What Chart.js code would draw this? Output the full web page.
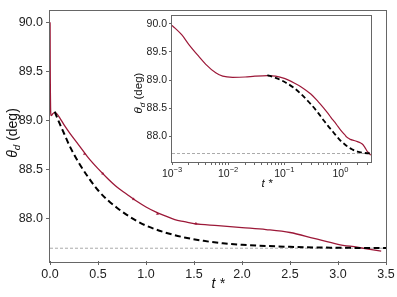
<!DOCTYPE html>
<html>
<head>
<meta charset="utf-8">
<script src="https://cdn.jsdelivr.net/npm/chart.js@4.4.0/dist/chart.umd.min.js"></script>
<style>
  html, body { margin: 0; padding: 0; background: #fff; }
  #wrap { position: relative; width: 397px; height: 297px; }
  #mainChart { position: absolute; left: 0; top: 0; }
  #insetChart { position: absolute; left: 125px; top: 8px; }
</style>
</head>
<body>
<div id="wrap">
  <canvas id="mainChart" width="397" height="297"></canvas>
  <canvas id="insetChart" width="255" height="190"></canvas>
</div>
<script>
// simulated contact angle (red) and fitted exponential (dashed)
const redT = [0, 0.001, 0.0015, 0.002, 0.003, 0.004, 0.006, 0.008, 0.012, 0.02, 0.03, 0.05, 0.07,
  0.1, 0.15, 0.2, 0.3, 0.4, 0.5, 0.6, 0.7, 0.8, 0.9, 1.0, 1.1, 1.2, 1.3, 1.4, 1.5,
  1.75, 2.0, 2.25, 2.5, 2.75, 3.0, 3.2, 3.45];
const redTheta = [90.0, 89.97, 89.80, 89.63, 89.42, 89.28, 89.13, 89.07, 89.05, 89.055, 89.07, 89.08, 89.07,
  89.03, 88.95, 88.88, 88.75, 88.62, 88.51, 88.41, 88.32, 88.25, 88.18, 88.12, 88.07, 88.03, 87.99, 87.97, 87.95,
  87.93, 87.91, 87.89, 87.86, 87.80, 87.74, 87.71, 87.67];
const dashT = [0.05, 0.07, 0.1, 0.15, 0.2, 0.3, 0.4, 0.5, 0.6, 0.7, 0.8, 0.9, 1.0,
  1.2, 1.4, 1.6, 1.8, 2.0, 2.5, 3.0, 3.5];
const dashTheta = [89.09, 89.04, 88.97, 88.86, 88.75, 88.57, 88.42, 88.29, 88.19, 88.11, 88.04, 87.98, 87.93,
  87.86, 87.81, 87.775, 87.75, 87.735, 87.714, 87.705, 87.702];
const markT = [0.36, 0.55, 0.87, 1.12, 1.52];
const markTheta = [88.66, 88.46, 88.20, 88.05, 87.95];
const refTheta = 87.70;

const mainXTicks = [0, 0.5, 1.0, 1.5, 2.0, 2.5, 3.0, 3.5];
const mainYTicks = [88.0, 88.5, 89.0, 89.5, 90.0];
const insetYTicks = [88.0, 88.5, 89.0, 89.5, 90.0];
const insetXMajor = [0.001, 0.01, 0.1, 1];
const insetXExp = ['\u22123', '\u22122', '\u22121', '0'];

const FONT = "'Liberation Sans', Arial, sans-serif";
const RED = '#9c1838';
const AXIS = '#666';
Chart.defaults.font.family = FONT;
Chart.defaults.color = '#222';

function pts(xs, ys) {
    return xs.map((x, i) => ({ x: x, y: ys[i] }));
}

// box round the plot area
const framePlugin = {
    id: 'frame',
    afterDatasetsDraw(chart) {
        const a = chart.chartArea;
        const ctx = chart.ctx;
        ctx.save();
        ctx.strokeStyle = AXIS;
        ctx.lineWidth = 1;
        ctx.strokeRect(Math.round(a.left) - 0.5, Math.round(a.top) - 0.5,
            Math.round(a.right - a.left) + 1, Math.round(a.bottom - a.top) + 1);
        ctx.restore();
    }
};

// axis titles with italic theta and subscript d
const titlesPlugin = {
    id: 'axisTitles',
    afterDraw(chart, args, o) {
        const ctx = chart.ctx;
        const s = o.size;
        ctx.save();
        ctx.fillStyle = '#111';
        ctx.textBaseline = 'middle';
        ctx.textAlign = 'left';

        // y title
        ctx.translate(o.yx, o.yy);
        ctx.rotate(-Math.PI / 2);
        const fTheta = 'italic ' + s + 'px ' + FONT;
        const fSub = 'italic ' + (s * 0.7) + 'px ' + FONT;
        const fRest = s + 'px ' + FONT;
        ctx.font = fTheta; const w1 = ctx.measureText('\u03b8').width;
        ctx.font = fSub; const w2 = ctx.measureText('d').width;
        ctx.font = fRest; const w3 = ctx.measureText(' (deg)').width;
        let x = -(w1 + w2 + w3) / 2;
        ctx.font = fTheta; ctx.fillText('\u03b8', x, 0); x += w1;
        ctx.font = fSub; ctx.fillText('d', x, s * 0.3); x += w2;
        ctx.font = fRest; ctx.fillText(' (deg)', x, 0);
        ctx.setTransform(1, 0, 0, 1, 0, 0);

        // x title
        ctx.font = 'italic ' + s + 'px ' + FONT;
        ctx.textAlign = 'center';
        ctx.fillText('t *', o.xx, o.xy);
        ctx.restore();
    }
};

// 10^n labels for the log axis of the inset
const logLabelsPlugin = {
    id: 'logLabels',
    afterDraw(chart) {
        const sc = chart.scales.x;
        const ctx = chart.ctx;
        const base = chart.chartArea.bottom + 15;
        ctx.save();
        ctx.fillStyle = '#222';
        ctx.textBaseline = 'alphabetic';
        ctx.textAlign = 'left';
        insetXMajor.forEach((v, i) => {
            const px = sc.getPixelForValue(v);
            ctx.font = '10.5px ' + FONT;
            const wb = ctx.measureText('10').width;
            ctx.font = '7.5px ' + FONT;
            const we = ctx.measureText(insetXExp[i]).width;
            const x0 = px - (wb + we) / 2;
            ctx.font = '10.5px ' + FONT;
            ctx.fillText('10', x0, base);
            ctx.font = '7.5px ' + FONT;
            ctx.fillText(insetXExp[i], x0 + wb, base - 5);
        });
        ctx.restore();
    }
};

function gridOpts(len) {
    return { drawOnChartArea: false, drawTicks: true, tickLength: len, color: AXIS };
}

// main chart
new Chart(document.getElementById('mainChart'), {
    type: 'line',
    data: {
        datasets: [
            {
                data: pts([0, 3.5], [refTheta, refTheta]),
                borderColor: '#aaaaaa', borderWidth: 1, borderDash: [3, 2],
                pointRadius: 0, order: 3
            },
            {
                data: pts(redT, redTheta),
                borderColor: RED, borderWidth: 1.3, pointRadius: 0,
                cubicInterpolationMode: 'monotone', order: 2
            },
            {
                data: pts(markT, markTheta),
                showLine: false, pointStyle: 'triangle', pointRadius: 1.3,
                backgroundColor: RED, borderColor: RED, borderWidth: 0.5, order: 1
            },
            {
                data: pts(dashT, dashTheta),
                borderColor: '#000', borderWidth: 2, borderDash: [6, 3.5], pointRadius: 0,
                cubicInterpolationMode: 'monotone', order: 0
            }
        ]
    },
    options: {
        responsive: false,
        animation: false,
        devicePixelRatio: 1,
        layout: { padding: { top: 2, right: 11, left: 0, bottom: 0 } },
        plugins: {
            legend: { display: false },
            tooltip: { enabled: false },
            axisTitles: { size: 14, yx: 13, yy: 133, xx: 218, xy: 284 }
        },
        scales: {
            x: {
                type: 'linear', min: 0, max: 3.5,
                afterBuildTicks: (s) => { s.ticks = mainXTicks.map(v => ({ value: v })); },
                afterFit: (s) => { s.height = 36; },
                ticks: { font: { size: 12.5 }, padding: 2, maxRotation: 0, autoSkip: false,
                         callback: (v) => Number(v).toFixed(1) },
                grid: gridOpts(4),
                border: { display: false }
            },
            y: {
                min: 87.57, max: 90.12,
                afterBuildTicks: (s) => { s.ticks = mainYTicks.map(v => ({ value: v })); },
                afterFit: (s) => { s.width = 50; },
                ticks: { font: { size: 12.5 }, padding: 3, callback: (v) => Number(v).toFixed(1) },
                grid: gridOpts(4),
                border: { display: false }
            }
        }
    },
    plugins: [framePlugin, titlesPlugin]
});

// inset on a log time axis
const insetTicks = [];
insetXMajor.forEach(d => {
    for (let k = 1; k <= 9; k++) {
        if (k * d <= 3.5) insetTicks.push(k * d);
    }
});

new Chart(document.getElementById('insetChart'), {
    type: 'line',
    data: {
        datasets: [
            {
                data: pts([0.001, 3.5], [refTheta, refTheta]),
                borderColor: '#aaaaaa', borderWidth: 1, borderDash: [3, 2],
                pointRadius: 0, order: 3
            },
            {
                data: pts(redT, redTheta).filter(p => p.x > 0),
                borderColor: RED, borderWidth: 1.2, pointRadius: 0,
                cubicInterpolationMode: 'monotone', order: 2
            },
            {
                data: pts(dashT, dashTheta),
                borderColor: '#000', borderWidth: 1.8, borderDash: [5, 3], pointRadius: 0,
                cubicInterpolationMode: 'monotone', order: 0
            }
        ]
    },
    options: {
        responsive: false,
        animation: false,
        devicePixelRatio: 1,
        layout: { padding: { top: 8, right: 9, left: 0, bottom: 0 } },
        plugins: {
            legend: { display: false },
            tooltip: { enabled: false },
            axisTitles: { size: 11.5, yx: 14, yy: 85, xx: 142, xy: 176 }
        },
        scales: {
            x: {
                type: 'logarithmic', min: 0.001, max: 3.5,
                afterBuildTicks: (s) => { s.ticks = insetTicks.map(v => ({ value: v })); },
                afterFit: (s) => { s.height = 36; },
                ticks: { autoSkip: false, maxRotation: 0, callback: () => '' },
                grid: gridOpts(3),
                border: { display: false }
            },
            y: {
                min: 87.55, max: 90.13,
                afterBuildTicks: (s) => { s.ticks = insetYTicks.map(v => ({ value: v })); },
                afterFit: (s) => { s.width = 47; },
                ticks: { font: { size: 10.5 }, padding: 2, callback: (v) => Number(v).toFixed(1) },
                grid: gridOpts(3),
                border: { display: false }
            }
        }
    },
    plugins: [framePlugin, titlesPlugin, logLabelsPlugin]
});
</script>
</body>
</html>
